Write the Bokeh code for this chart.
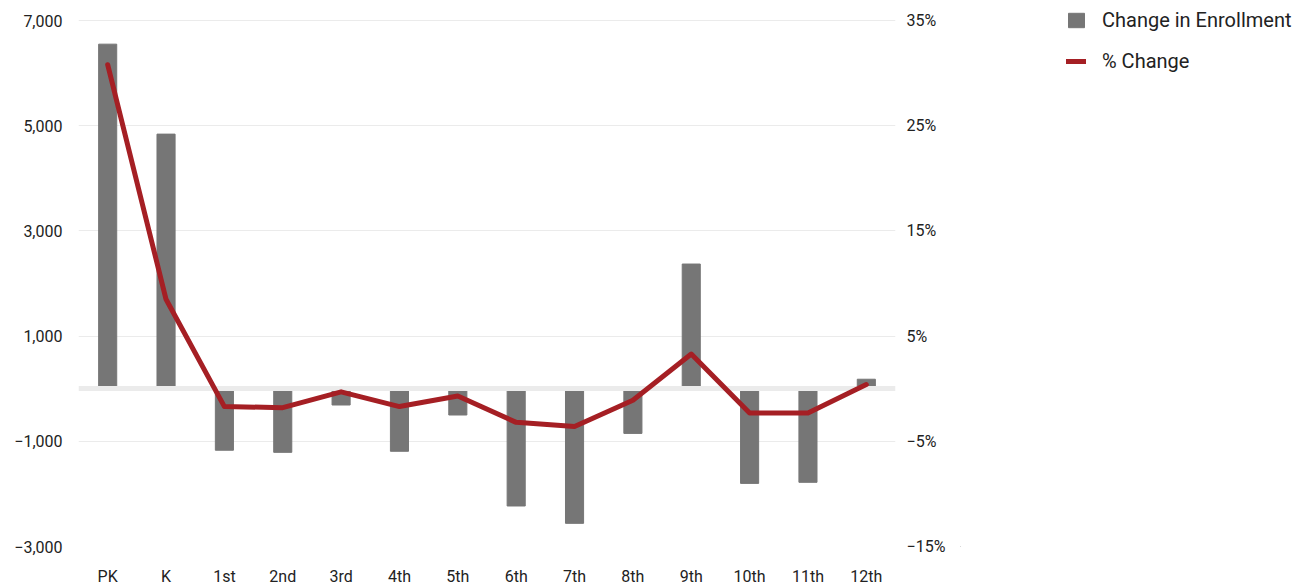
from bokeh.plotting import figure
from bokeh.layouts import row
from bokeh.models import (Range1d, LinearAxis, FixedTicker, Legend, LegendItem,
                          ColumnDataSource, FactorRange)
from bokeh.embed import file_html
from bokeh.resources import INLINE

grades = ["PK", "K", "1st", "2nd", "3rd", "4th", "5th", "6th", "7th", "8th", "9th", "10th", "11th", "12th"]
enrollment_change = [6550, 4840, -1170, -1210, -310, -1190, -500, -2230, -2560, -850, 2370, -1800, -1780, 180]
pct_change = [30.8, 8.5, -1.7, -1.8, -0.3, -1.7, -0.7, -3.2, -3.6, -1.1, 3.3, -2.3, -2.3, 0.4]
left_ticks = [-3000, -1000, 1000, 3000, 5000, 7000]
left_labels = ["\u22123,000", "\u22121,000", "1,000", "3,000", "5,000", "7,000"]
right_ticks = [-15, -5, 5, 15, 25, 35]
right_labels = ["\u221215%", "\u22125%", "5%", "15%", "25%", "35%"]
legend_labels = ["Change in Enrollment", "% Change"]

FONT = "Roboto"
TXT = "#222222"
BAR_COLOR = "#767676"
LINE_COLOR = "#a51f24"

# frame: top 8px, bottom 546px; the 7,000 / 35% gridline sits 12px below the top
EXTRA_PX = 12
PX_SPAN = 526
left_lo, left_hi = -3000, 7000
right_lo, right_hi = -15, 35
left_top = left_hi + EXTRA_PX * (left_hi - left_lo) / PX_SPAN
right_top = right_hi + EXTRA_PX * (right_hi - right_lo) / PX_SPAN

src = ColumnDataSource(dict(grade=grades, chg=enrollment_change, pct=pct_change))

p = figure(width=960, height=588,
           x_range=FactorRange(*grades, range_padding=0),
           y_range=Range1d(left_lo, left_top),
           output_backend="svg", toolbar_location=None,
           min_border_left=78, min_border_right=65,
           min_border_top=8, min_border_bottom=42)
p.outline_line_color = None
p.extra_y_ranges = {"pct": Range1d(right_lo, right_top)}

bars = p.vbar(x="grade", top="chg", width=0.31, source=src,
              fill_color=BAR_COLOR, line_color=BAR_COLOR)
p.hspan(y=[0], line_width=5, line_color="#ebebeb")
line = p.line(x="grade", y="pct", source=src, y_range_name="pct",
              line_width=5, line_color=LINE_COLOR, line_cap="round", line_join="round")


def style_axis(ax, standoff):
    ax.axis_line_color = None
    ax.major_tick_line_color = None
    ax.minor_tick_line_color = None
    ax.major_tick_out = 0
    ax.major_tick_in = 0
    ax.minor_tick_out = 0
    ax.minor_tick_in = 0
    ax.major_label_standoff = standoff
    ax.major_label_text_font = FONT
    ax.major_label_text_font_size = "16px"
    ax.major_label_text_color = TXT


la = p.yaxis[0]
la.ticker = FixedTicker(ticks=left_ticks)
la.major_label_overrides = {t: l for t, l in zip(left_ticks, left_labels)}
style_axis(la, 16)

ra = LinearAxis(y_range_name="pct", ticker=FixedTicker(ticks=right_ticks))
ra.major_label_overrides = {t: l for t, l in zip(right_ticks, right_labels)}
style_axis(ra, 11)
p.add_layout(ra, "right")

xa = p.xaxis[0]
style_axis(xa, 20)

p.xgrid.grid_line_color = None
p.ygrid.ticker = FixedTicker(ticks=left_ticks)
p.ygrid.grid_line_color = "#ebebeb"
p.ygrid.grid_line_width = 1

# legend panel (separate figure to the right of the chart)
lg = figure(width=355, height=588, x_range=Range1d(0, 1), y_range=Range1d(0, 1),
            output_backend="svg", toolbar_location=None,
            min_border=0, min_border_left=0, min_border_right=0,
            min_border_top=8, min_border_bottom=42)
lg.axis.visible = False
lg.grid.visible = False
lg.outline_line_color = None
# swatch renderers: one point each, placed outside the visible range
r_bar = lg.vbar(x=[-5], top=[-4], bottom=[-5], width=0.3,
                fill_color=BAR_COLOR, line_color=BAR_COLOR)
r_line = lg.line(x=[-5, -4], y=[-5, -5], line_width=5,
                 line_color=LINE_COLOR, line_cap="round")

legend = Legend(items=[LegendItem(label=legend_labels[0], renderers=[r_bar]),
                       LegendItem(label=legend_labels[1], renderers=[r_line])],
                location=(106, 473))
legend.background_fill_alpha = 0
legend.border_line_color = None
legend.padding = 0
legend.margin = 0
legend.spacing = 17
legend.glyph_width = 20
legend.glyph_height = 18
legend.label_standoff = 16
legend.label_text_font = FONT
legend.label_text_font_size = "20px"
legend.label_text_color = TXT
lg.add_layout(legend)

layout = row(p, lg, spacing=0)
open("out.html", "w").write(file_html(layout, INLINE))
